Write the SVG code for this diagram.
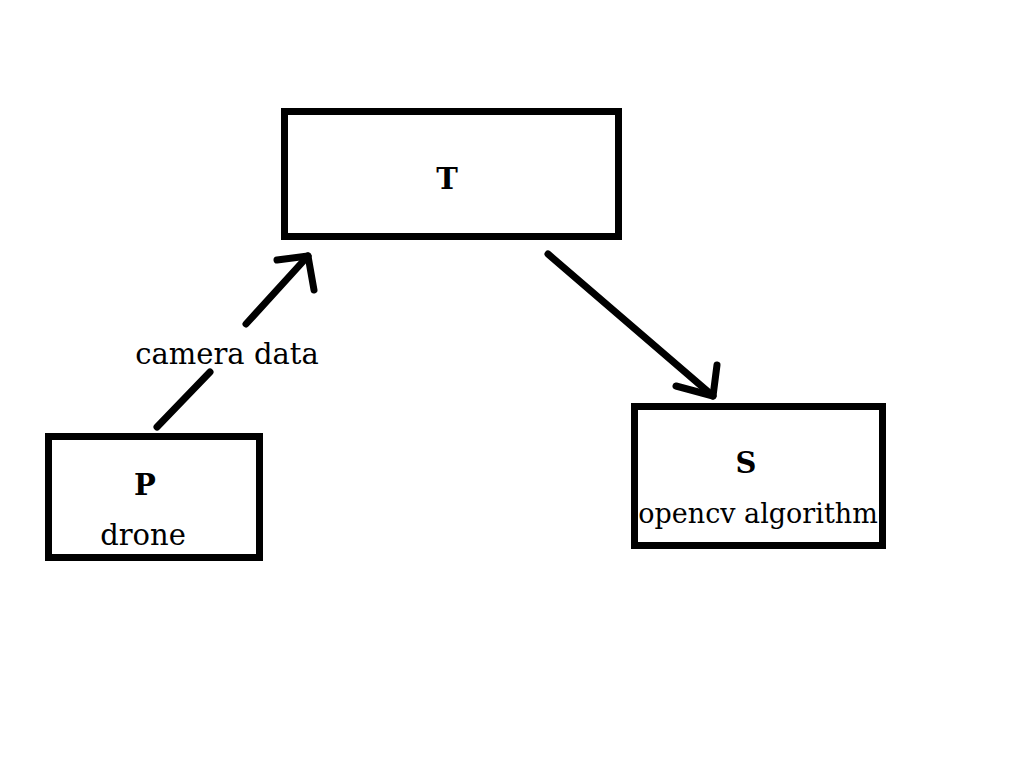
<svg xmlns="http://www.w3.org/2000/svg" width="1034" height="779" viewBox="0 0 1034 779">
<style>
.box{fill:none;stroke:#000;stroke-width:7}
.ln{fill:none;stroke:#000;stroke-width:7;stroke-linecap:round;stroke-linejoin:round}
text{font-family:"DejaVu Serif","Liberation Serif",serif;font-size:29px;fill:#000;text-anchor:middle}
.b{font-weight:bold}
.sm{font-size:27px}
</style>
<rect width="1034" height="779" fill="#fff"/>
<g id="connectors">
<path class="ln" d="M157,427 L210,372 M246,324 L308,256"/>
<path class="ln" d="M277,260 L308,256 L314,290"/>
<path class="ln" d="M548,254 L713,396"/>
<path class="ln" d="M676,386 L713,396 L717,365"/>
<text x="227" y="364">camera data</text>
</g>
<g id="T">
<rect class="box" x="284.5" y="111.5" width="334" height="125"/>
<text class="b" x="447" y="189">T</text>
</g>
<g id="P">
<rect class="box" x="48.5" y="436.5" width="211" height="121"/>
<text class="b" x="145" y="495">P</text>
<text x="143" y="545">drone</text>
</g>
<g id="S">
<rect class="box" x="634.5" y="406.5" width="248" height="139"/>
<text class="b" x="746" y="473">S</text>
<text class="sm" x="758" y="523">opencv algorithm</text>
</g>
</svg>
